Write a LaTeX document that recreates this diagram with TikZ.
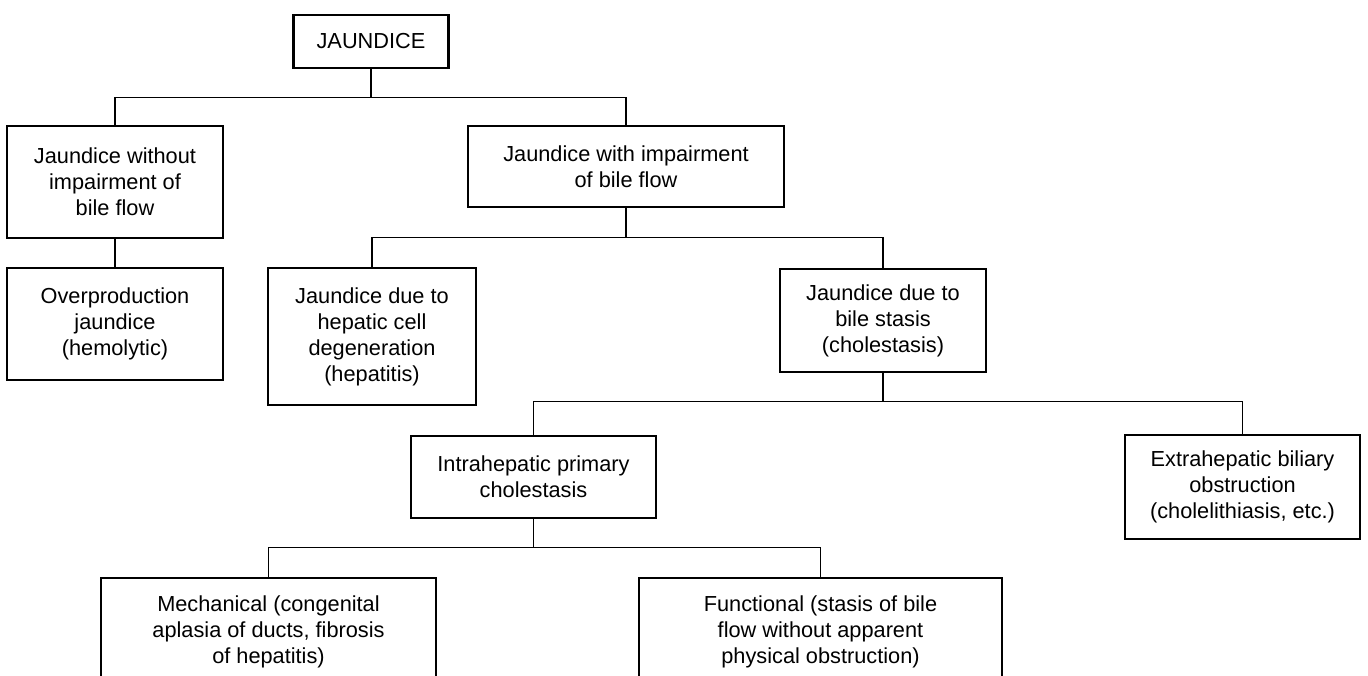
\documentclass[tikz,border=0pt]{standalone}
\usepackage{fontspec}
\setmainfont{Liberation Sans}
\begin{document}
\begin{tikzpicture}[x=1pt,y=-1pt,
  box/.style={draw,line width=2.2pt,align=center,inner sep=0pt,
    font=\fontsize{21.75}{26}\selectfont},
  link/.style={line width=1.2pt}]
\useasboundingbox (0,0) rectangle (1368,675);
\clip (0,0) rectangle (1368,675);
\fill[white] (0,0) rectangle (1368,675);
\node[box,minimum width=155pt,minimum height=53pt] (j) at (371,41.5) {JAUNDICE};
\node[box,minimum width=216pt,minimum height=112pt] (wo) at (115,182) {Jaundice without\\impairment of\\bile flow};
\node[box,minimum width=316pt,minimum height=81pt] (wi) at (626,166.5) {Jaundice with impairment\\of bile flow};
\node[box,minimum width=216pt,minimum height=112pt] (ov) at (115,324) {Overproduction\\jaundice\\(hemolytic)};
\node[box,minimum width=208pt,minimum height=137pt] (hep) at (372,336.5) {Jaundice due to\\hepatic cell\\degeneration\\(hepatitis)};
\node[box,minimum width=206pt,minimum height=103pt] (sta) at (883,320.5) {Jaundice due to\\bile stasis\\(cholestasis)};
\node[box,minimum width=245pt,minimum height=82pt] (intra) at (533.5,477) {Intrahepatic primary\\cholestasis};
\node[box,minimum width=235pt,minimum height=104pt] (extra) at (1242.5,487) {Extrahepatic biliary\\obstruction\\(cholelithiasis, etc.)};
\node[box,minimum width=335pt,minimum height=108pt] (mech) at (268.5,632) {Mechanical (congenital\\aplasia of ducts, fibrosis\\of hepatitis)};
\node[box,minimum width=363pt,minimum height=108pt] (func) at (820.5,632) {Functional (stasis of bile\\flow without apparent\\physical obstruction)};
\draw[link] (j.south) -- ++(0,28) -| (wo.north);
\draw[link] (j.south) -- ++(0,28) -| (wi.north);
\draw[link] (wo.south) -- (ov.north);
\draw[link] (wi.south) -- ++(0,29) -| (hep.north);
\draw[link] (wi.south) -- ++(0,29) -| (sta.north);
\draw[link] (sta.south) -- ++(0,28) -| (intra.north);
\draw[link] (sta.south) -- ++(0,28) -| (extra.north);
\draw[link] (intra.south) -- ++(0,28) -| (mech.north);
\draw[link] (intra.south) -- ++(0,28) -| (func.north);
\end{tikzpicture}
\end{document}
